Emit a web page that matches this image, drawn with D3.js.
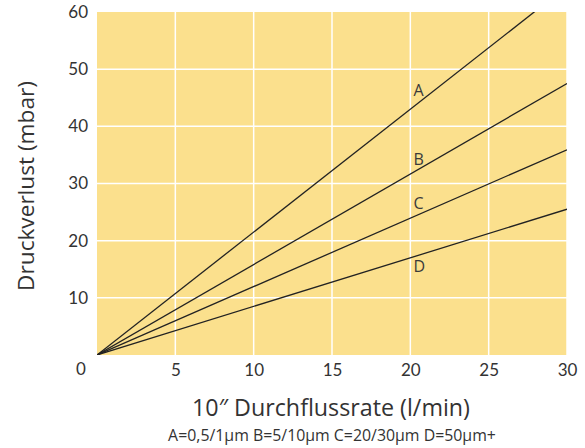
<!DOCTYPE html>
<html><head><meta charset="utf-8">
<script src="https://cdn.jsdelivr.net/npm/d3@7"></script>
<style>body{margin:0;background:#fff;}svg{display:block;font-family:Lato,"Open Sans",sans-serif;}</style>
</head><body>
<svg id="c" width="585" height="448"></svg>
<script>
const seriesNames = ["A","B","C","D"];
const flowPoints = [0, 30];
const seriesA = [0, 64.5];
const seriesB = [0, 47.5];
const seriesC = [0, 35.9];
const seriesD = [0, 25.5];
const labelX = [20.2, 20.2, 20.2, 20.2];
const labelY = [46, 34, 26.3, 15.2];
const xTicks = [5, 10, 15, 20, 25, 30];
const yTicks = [10, 20, 30, 40, 50, 60];
const xTitle = "10\u2033 Durchflussrate (l/min)";
const yTitle = "Druckverlust (mbar)";
const legendText = "A=0,5/1\u00b5m B=5/10\u00b5m C=20/30\u00b5m D=50\u00b5m+";

const svg = d3.select("#c");
const L = 97, R = 567, T = 12, B = 355;
const x = d3.scaleLinear().domain([0,30]).range([L,R]);
const y = d3.scaleLinear().domain([0,60]).range([B,T]);

svg.append("rect").attr("x",L).attr("y",T).attr("width",R-L).attr("height",B-T).attr("fill","#fbe08d");
svg.append("defs").append("clipPath").attr("id","clp").append("rect")
  .attr("x",L).attr("y",T).attr("width",R-L).attr("height",B-T);

const g = svg.append("g");
g.selectAll(".vg").data(xTicks).join("line")
  .attr("x1",d=>x(d)).attr("x2",d=>x(d)).attr("y1",T).attr("y2",B)
  .attr("stroke","#fff").attr("stroke-width",1.5);
g.selectAll(".hg").data(yTicks.filter(d=>d<60)).join("line")
  .attr("y1",d=>y(d)).attr("y2",d=>y(d)).attr("x1",L).attr("x2",R)
  .attr("stroke","#fff").attr("stroke-width",1.5);

const all = [seriesA, seriesB, seriesC, seriesD];
const line = d3.line().x((d,i)=>x(flowPoints[i])).y(d=>y(d));
svg.append("g").attr("clip-path","url(#clp)").selectAll("path").data(all).join("path")
  .attr("d",line).attr("fill","none").attr("stroke","#222").attr("stroke-width",1.3);

svg.selectAll(".sl").data(seriesNames).join("text")
  .attr("x",(d,i)=>x(labelX[i])).attr("y",(d,i)=>y(labelY[i]))
  .attr("font-family","'Open Sans',sans-serif")
  .attr("font-size",16).attr("fill","#3a3a3a").attr("dominant-baseline","middle").text(d=>d);

// axes
const xa = svg.append("g").attr("transform",`translate(0,${B})`)
  .call(d3.axisBottom(x).tickValues(xTicks).tickSize(0).tickPadding(9));
xa.select(".domain").remove();
xa.selectAll("text").attr("font-size",17).attr("fill","#333").attr("font-family","Lato,sans-serif");
const ya = svg.append("g").attr("transform",`translate(${L},0)`)
  .call(d3.axisLeft(y).tickValues(yTicks).tickSize(0).tickPadding(9));
ya.select(".domain").remove();
ya.selectAll("text").attr("font-size",17).attr("fill","#333").attr("font-family","Lato,sans-serif");
svg.append("text").attr("x",81).attr("y",371).attr("text-anchor","middle").attr("dominant-baseline","middle")
  .attr("font-size",17).attr("fill","#333").text("0");

function fit(sel, target){
  const n = sel.node(); const s = +sel.attr("font-size");
  const w = n.getComputedTextLength();
  if (w > 0) sel.attr("font-size", s*target/w);
}
const xt = svg.append("text").attr("x",331).attr("y",410).attr("text-anchor","middle").attr("dominant-baseline","middle")
  .attr("font-family","'Open Sans',sans-serif").attr("font-size",20).attr("fill","#333").text(xTitle);
fit(xt, 278);
const yt = svg.append("text").attr("transform","translate(28,186) rotate(-90)").attr("text-anchor","middle")
  .attr("dominant-baseline","middle").attr("font-family","'Open Sans',sans-serif").attr("font-size",20).attr("fill","#333").text(yTitle);
fit(yt, 210);
const lt = svg.append("text").attr("x",332).attr("y",437).attr("text-anchor","middle").attr("dominant-baseline","middle")
  .attr("font-family","'Open Sans',sans-serif").attr("font-size",13).attr("fill","#333").text(legendText);
fit(lt, 328);
</script>
</body></html>
